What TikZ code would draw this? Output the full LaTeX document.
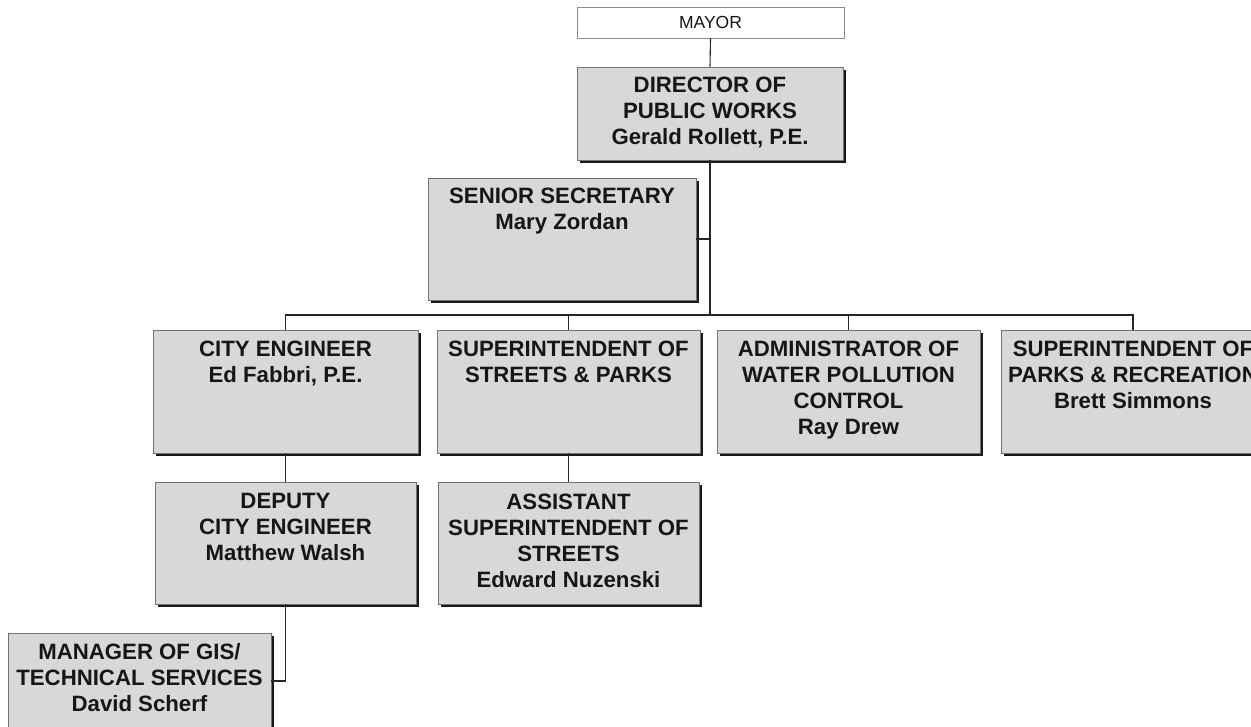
\documentclass[tikz,border=0pt]{standalone}
\usepackage{fontspec}
\setmainfont{Liberation Sans}
\usetikzlibrary{shadows}
\definecolor{boxgray}{RGB}{216,216,216}
\definecolor{inkc}{RGB}{22,22,22}
\tikzset{
  orgbox/.style={draw=black!55, line width=0.6pt, fill=boxgray, inner sep=0pt,
    general shadow={fill=black!90, shadow xshift=2.6pt, shadow yshift=-2.6pt}},
  topbox/.style={draw=black!45, line width=0.6pt, fill=white, inner sep=0pt},
  orgtext/.style={align=center, inner sep=0pt, text=inkc,
    font=\fontsize{22.2}{26}\selectfont\bfseries, anchor=north},
  link/.style={draw=black!85, line width=1.1pt}
}
\begin{document}
\begin{tikzpicture}[x=1pt,y=-1pt]
\useasboundingbox (0,0) rectangle (1251,727);
\clip (0,0) rectangle (1251,727);
\fill[white] (0,0) rectangle (1251,727);

% boxes
\node[topbox, minimum width=267, minimum height=31] (mayor) at (710.5,22.5) {};
\node[inner sep=0pt, text=inkc, font=\fontsize{17.5}{20}\selectfont] (mayorT) at (mayor.center) {MAYOR};

\node[orgbox, minimum width=266, minimum height=93] (dir) at (710,113.5) {};
\node[orgbox, minimum width=268, minimum height=122] (sec) at (562,239) {};
\node[orgbox, minimum width=265, minimum height=123] (city) at (285.5,391.5) {};
\node[orgbox, minimum width=263, minimum height=123] (str) at (568.5,391.5) {};
\node[orgbox, minimum width=263, minimum height=123] (adm) at (848.5,391.5) {};
\node[orgbox, minimum width=264, minimum height=123] (prk) at (1133,391.5) {};
\node[orgbox, minimum width=261, minimum height=122] (dep) at (285.5,543) {};
\node[orgbox, minimum width=261, minimum height=122] (ast) at (568.5,543) {};
\node[orgbox, minimum width=263, minimum height=122] (gis) at (139.5,694) {};

% texts
\node[orgtext] (dirT) at ([yshift=-10pt]dir.north) {DIRECTOR OF\\PUBLIC WORKS\\Gerald Rollett, P.E.};
\node[orgtext] (secT) at ([yshift=-10pt]sec.north) {SENIOR SECRETARY\\Mary Zordan};
\node[orgtext] (cityT) at ([yshift=-11pt]city.north) {CITY ENGINEER\\Ed Fabbri, P.E.};
\node[orgtext] (strT) at ([yshift=-11pt]str.north) {SUPERINTENDENT OF\\STREETS \& PARKS};
\node[orgtext] (admT) at ([yshift=-11pt]adm.north) {ADMINISTRATOR OF\\WATER POLLUTION\\CONTROL\\Ray Drew};
\node[orgtext] (prkT) at ([yshift=-11pt]prk.north) {SUPERINTENDENT OF\\PARKS \& RECREATION\\Brett Simmons};
\node[orgtext] (depT) at ([yshift=-11pt]dep.north) {DEPUTY\\CITY ENGINEER\\Matthew Walsh};
\node[orgtext] (astT) at ([yshift=-12pt]ast.north) {ASSISTANT\\SUPERINTENDENT OF\\STREETS\\Edward Nuzenski};
\node[orgtext] (gisT) at ([yshift=-11pt]gis.north) {MANAGER OF GIS/\\TECHNICAL SERVICES\\David Scherf};

% connectors
\coordinate (bus) at (710,315);
\coordinate (secj) at (710,239);
\coordinate (gisj) at (285.5,681);
\draw[link] (mayor.south) -- (dir.north);
\draw[link] (dir.south) -- (bus);
\draw[link] (sec.east |- secj) -- (secj);
\draw[link] (city.north) -- (city.north |- bus) -- (prk.north |- bus) -- (prk.north);
\draw[link] (str.north |- bus) -- (str.north);
\draw[link] (adm.north |- bus) -- (adm.north);
\draw[link] (city.south) -- (dep.north);
\draw[link] (str.south) -- (ast.north);
\draw[link] (dep.south) -- (gisj) -- (gis.east |- gisj);
\end{tikzpicture}
\end{document}
